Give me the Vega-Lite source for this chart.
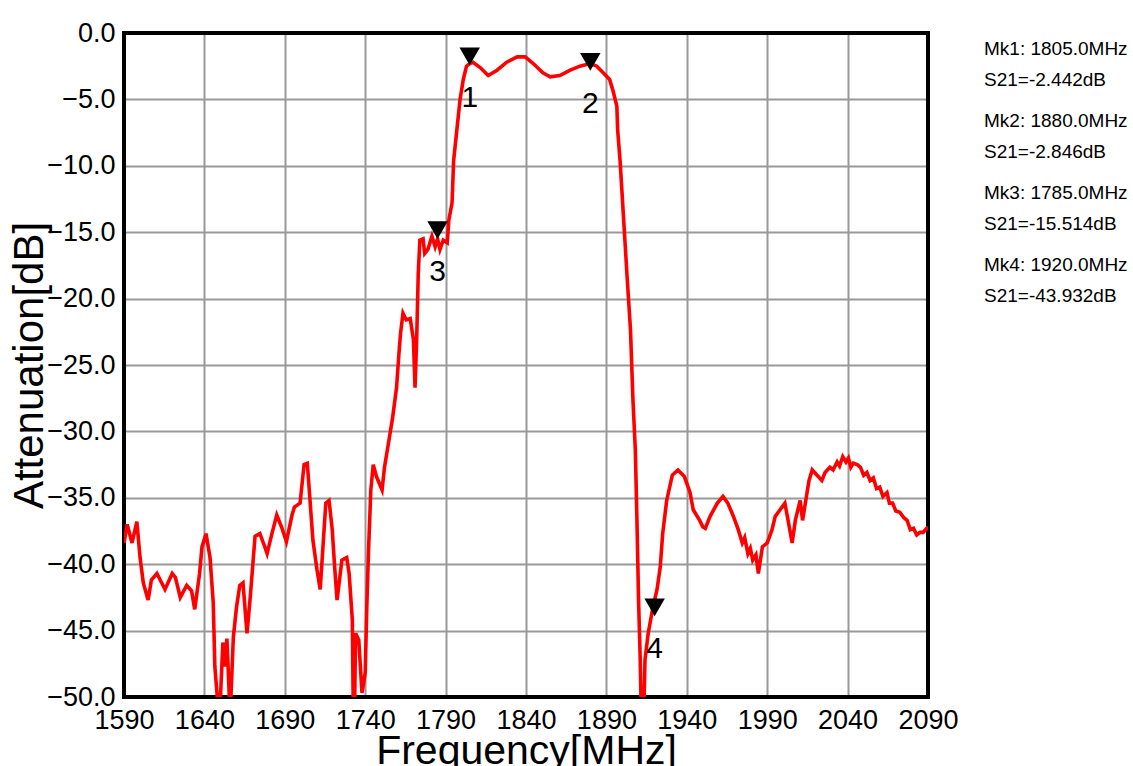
{
  "$schema": "https://vega.github.io/schema/vega-lite/v6.json",
  "width": 804,
  "height": 664,
  "autosize": "none",
  "padding": {"left": 124, "top": 33, "right": 205, "bottom": 69},
  "background": "white",
  "config": {"view": {"stroke": null}, "font": "Liberation Sans"},
  "datasets": {
    "frame": [{"f0": 1590, "f1": 2090, "d0": 0, "d1": -50}],
    "curve": [
      {"f":1590,"d":-38.4},{"f":1592,"d":-37.0},{"f":1595,"d":-38.4},{"f":1598,"d":-36.8},{"f":1600,"d":-39.5},
      {"f":1602,"d":-41.4},{"f":1605,"d":-42.7},{"f":1607,"d":-41.2},{"f":1610.5,"d":-40.7},{"f":1613,"d":-41.3},
      {"f":1615.5,"d":-41.9},{"f":1620,"d":-40.7},{"f":1622,"d":-41.0},{"f":1625,"d":-42.5},{"f":1629,"d":-41.6},
      {"f":1632,"d":-42.0},{"f":1634,"d":-43.4},{"f":1637,"d":-40.7},{"f":1638.5,"d":-38.7},{"f":1641,"d":-37.7},
      {"f":1643.5,"d":-39.5},{"f":1645.5,"d":-42.9},{"f":1646.5,"d":-47.7},{"f":1648,"d":-50},{"f":1650,"d":-50},
      {"f":1651.5,"d":-45.9},{"f":1653,"d":-47.7},{"f":1654,"d":-45.6},{"f":1655.5,"d":-50},{"f":1656.5,"d":-50},
      {"f":1658,"d":-45.5},{"f":1660,"d":-43.2},{"f":1662,"d":-41.6},{"f":1664,"d":-41.4},{"f":1666.5,"d":-45.2},
      {"f":1668.5,"d":-42.5},{"f":1670,"d":-40.2},{"f":1671.5,"d":-37.9},{"f":1674.5,"d":-37.7},{"f":1677,"d":-38.5},
      {"f":1679,"d":-39.2},{"f":1682,"d":-37.7},{"f":1685,"d":-36.3},{"f":1688,"d":-37.2},{"f":1691,"d":-38.3},
      {"f":1694.5,"d":-36.3},{"f":1696,"d":-35.7},{"f":1699.5,"d":-35.4},{"f":1702,"d":-32.5},{"f":1704,"d":-32.4},
      {"f":1705.5,"d":-34.9},{"f":1707.5,"d":-38.2},{"f":1710,"d":-40.4},{"f":1712,"d":-41.9},{"f":1714,"d":-38.2},
      {"f":1715.5,"d":-35.4},{"f":1717.5,"d":-35.2},{"f":1719.5,"d":-37.4},{"f":1721,"d":-40.2},{"f":1722.5,"d":-42.7},
      {"f":1725.5,"d":-39.7},{"f":1728.5,"d":-39.5},{"f":1730,"d":-40.7},{"f":1732,"d":-44.2},{"f":1732.5,"d":-50},
      {"f":1733.5,"d":-50},{"f":1734,"d":-45.2},{"f":1736,"d":-45.7},{"f":1738,"d":-49.7},{"f":1740,"d":-48.2},
      {"f":1741,"d":-43.2},{"f":1742,"d":-39.2},{"f":1743.5,"d":-34.4},{"f":1745,"d":-32.5},{"f":1747,"d":-33.4},
      {"f":1750.5,"d":-34.4},{"f":1752,"d":-32.7},{"f":1755,"d":-30.5},{"f":1757,"d":-29.0},{"f":1759.5,"d":-26.7},
      {"f":1761,"d":-24.1},{"f":1762,"d":-22.6},{"f":1763.5,"d":-21.1},{"f":1765.5,"d":-21.6},{"f":1768,"d":-21.5},
      {"f":1770,"d":-23.1},{"f":1771,"d":-26.7},{"f":1772,"d":-23.1},{"f":1773,"d":-18.1},{"f":1774,"d":-15.6},
      {"f":1776,"d":-15.5},{"f":1777,"d":-16.6},{"f":1779,"d":-16.3},{"f":1781.5,"d":-15.3},{"f":1783.5,"d":-16.1},
      {"f":1785,"d":-15.5},{"f":1786.5,"d":-16.3},{"f":1788.5,"d":-15.6},{"f":1791,"d":-15.8},{"f":1792,"d":-14.1},
      {"f":1794,"d":-12.8},{"f":1795,"d":-9.6},{"f":1797,"d":-7.3},{"f":1799,"d":-5.0},{"f":1801,"d":-3.5},
      {"f":1803,"d":-2.5},{"f":1805,"d":-2.3},{"f":1807,"d":-2.2},{"f":1811.5,"d":-2.6},{"f":1816.5,"d":-3.2},
      {"f":1822,"d":-2.8},{"f":1828,"d":-2.2},{"f":1834.5,"d":-1.8},{"f":1839.5,"d":-1.8},{"f":1844.5,"d":-2.3},
      {"f":1850.5,"d":-3.0},{"f":1855,"d":-3.3},{"f":1861,"d":-3.2},{"f":1867.5,"d":-2.8},{"f":1873.5,"d":-2.5},
      {"f":1880,"d":-2.3},{"f":1884,"d":-2.5},{"f":1888,"d":-3.0},{"f":1892,"d":-3.5},{"f":1894,"d":-4.3},
      {"f":1896.5,"d":-5.5},{"f":1897,"d":-7.3},{"f":1898.5,"d":-9.6},{"f":1901.5,"d":-15.6},{"f":1903,"d":-18.6},
      {"f":1905,"d":-22.4},{"f":1906.5,"d":-27.6},{"f":1908,"d":-31.4},{"f":1909,"d":-36.7},{"f":1910,"d":-42.7},
      {"f":1911,"d":-47},{"f":1911.5,"d":-50},{"f":1913.5,"d":-50},{"f":1914,"d":-47.2},{"f":1916,"d":-45.2},
      {"f":1919,"d":-43.2},{"f":1921.5,"d":-41.9},{"f":1923.5,"d":-40.2},{"f":1925,"d":-37.7},{"f":1927.5,"d":-35.2},
      {"f":1931,"d":-33.3},{"f":1934.5,"d":-32.9},{"f":1938.5,"d":-33.4},{"f":1942,"d":-34.6},{"f":1944,"d":-35.9},
      {"f":1948,"d":-36.7},{"f":1950,"d":-37.2},{"f":1951.5,"d":-37.3},{"f":1954.5,"d":-36.4},{"f":1959,"d":-35.4},
      {"f":1962.5,"d":-34.9},{"f":1965.5,"d":-35.4},{"f":1969,"d":-36.4},{"f":1972,"d":-37.4},{"f":1974.5,"d":-38.4},
      {"f":1976,"d":-38.0},{"f":1978,"d":-39.2},{"f":1979.5,"d":-38.8},{"f":1981,"d":-39.7},{"f":1983,"d":-39.3},
      {"f":1984.5,"d":-40.7},{"f":1987,"d":-38.7},{"f":1990,"d":-38.4},{"f":1993,"d":-37.4},{"f":1995,"d":-36.4},
      {"f":1998,"d":-35.9},{"f":2001,"d":-35.4},{"f":2003,"d":-36.7},{"f":2005.5,"d":-38.4},{"f":2007.5,"d":-36.7},
      {"f":2010.5,"d":-35.2},{"f":2012,"d":-36.7},{"f":2014,"d":-35.2},{"f":2016,"d":-33.7},{"f":2018,"d":-32.9},
      {"f":2021,"d":-33.3},{"f":2024,"d":-33.7},{"f":2026,"d":-33.1},{"f":2029,"d":-32.7},{"f":2031,"d":-32.9},
      {"f":2033.5,"d":-32.3},{"f":2035,"d":-32.6},{"f":2037,"d":-31.9},{"f":2039,"d":-32.3},{"f":2040.5,"d":-32.0},
      {"f":2042,"d":-32.7},{"f":2043.5,"d":-32.4},{"f":2046,"d":-32.5},{"f":2048,"d":-32.7},{"f":2050,"d":-33.3},
      {"f":2052,"d":-33.1},{"f":2054,"d":-33.7},{"f":2056,"d":-33.5},{"f":2058,"d":-34.3},{"f":2060,"d":-34.2},
      {"f":2062,"d":-34.9},{"f":2064.5,"d":-34.6},{"f":2066,"d":-35.4},{"f":2068,"d":-35.4},{"f":2070,"d":-36.0},
      {"f":2072.5,"d":-36.1},{"f":2075,"d":-36.5},{"f":2077,"d":-36.7},{"f":2079,"d":-37.4},{"f":2081,"d":-37.3},
      {"f":2083,"d":-37.8},{"f":2085,"d":-37.6},{"f":2087,"d":-37.6},{"f":2090,"d":-37.2}
    ],
    "markers": [
      {"mk":"1","f":1805,"d":-2.442,"info":"Mk1: 1805.0MHz|\u00a0S21=-2.442dB"},
      {"mk":"2","f":1880,"d":-2.846,"info":"Mk2: 1880.0MHz|\u00a0S21=-2.846dB"},
      {"mk":"3","f":1785,"d":-15.514,"info":"Mk3: 1785.0MHz|\u00a0S21=-15.514dB"},
      {"mk":"4","f":1920,"d":-43.932,"info":"Mk4: 1920.0MHz|\u00a0S21=-43.932dB"}
    ]
  },
  "encoding": {
    "x": {
      "field": "f", "type": "quantitative",
      "scale": {"domain": [1590, 2090], "nice": false, "zero": false},
      "axis": {
        "title": "Frequency[MHz]",
        "values": [1590, 1640, 1690, 1740, 1790, 1840, 1890, 1940, 1990, 2040, 2090],
        "format": "d", "labelFontSize": 27, "labelColor": "#000", "labelPadding": 10,
        "labelFlush": false, "labelOverlap": false, "ticks": false, "domain": false,
        "grid": true, "gridColor": "#999999", "gridWidth": 2,
        "titleFontSize": 41, "titleFontWeight": "normal", "titleColor": "#000", "titlePadding": -2
      }
    },
    "y": {
      "field": "d", "type": "quantitative",
      "scale": {"domain": [-50, 0], "nice": false, "zero": false},
      "axis": {
        "title": "Attenuation[dB]",
        "values": [-50, -45, -40, -35, -30, -25, -20, -15, -10, -5, 0],
        "format": ".1f", "labelFontSize": 27, "labelColor": "#000", "labelPadding": 9,
        "labelFlush": false, "labelOverlap": false, "ticks": false, "domain": false,
        "grid": true, "gridColor": "#999999", "gridWidth": 2,
        "titleFontSize": 42, "titleFontWeight": "normal", "titleColor": "#000", "titlePadding": -5
      }
    }
  },
  "layer": [
    {
      "data": {"name": "frame"},
      "mark": {"type": "rect", "filled": false, "color": "#000000", "strokeWidth": 4},
      "encoding": {
        "x": {"field": "f0", "type": "quantitative"},
        "x2": {"field": "f1"},
        "y": {"field": "d0", "type": "quantitative"},
        "y2": {"field": "d1"}
      }
    },
    {
      "data": {"name": "curve"},
      "mark": {"type": "line", "color": "#ff0000", "strokeWidth": 3.6, "clip": true},
      "encoding": {}
    },
    {
      "data": {"name": "markers"},
      "mark": {"type": "point", "shape": "triangle-down", "filled": true, "size": 420, "yOffset": -9, "opacity": 1},
      "encoding": {
        "color": {
          "field": "info", "type": "nominal",
          "scale": {"range": ["#000000", "#000000", "#000000", "#000000"]},
          "legend": {
            "title": null, "orient": "none", "legendX": 837, "legendY": -7, "padding": 4,
            "symbolSize": 0, "symbolStrokeWidth": 0, "symbolOpacity": 0, "labelOffset": 0,
            "labelFontSize": 19, "labelColor": "#000", "labelLimit": 400, "labelBaseline": "top",
            "labelExpr": "split(datum.label, '|')", "rowPadding": 12,
            "encode": {"labels": {"update": {"lineHeight": {"value": 31}}}}
          }
        }
      }
    },
    {
      "data": {"name": "markers"},
      "mark": {"type": "text", "dy": 33, "fontSize": 30, "baseline": "middle", "align": "center", "color": "#000"},
      "encoding": {"text": {"field": "mk"}}
    }
  ]
}
